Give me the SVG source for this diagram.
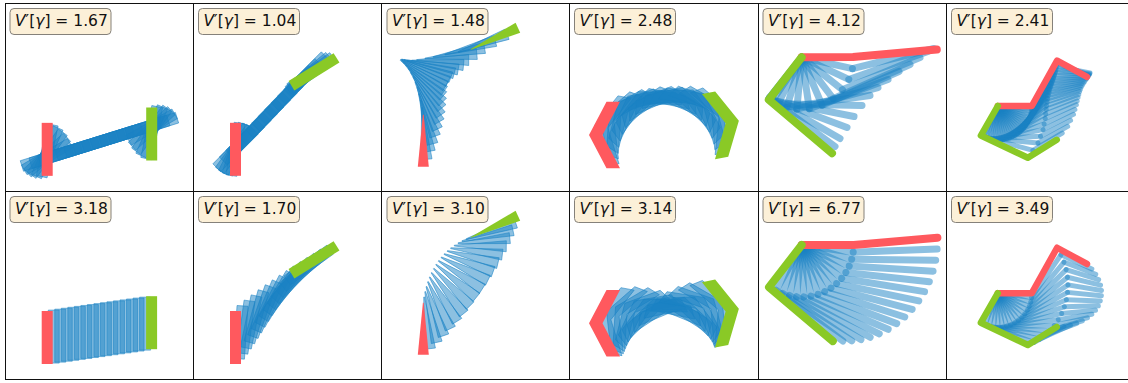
<svg xmlns="http://www.w3.org/2000/svg" width="1128" height="383" viewBox="0 0 1128 383">
<style>
.b{fill:#1982c4;fill-opacity:.5;stroke:#1982c4;stroke-opacity:.75;stroke-width:.7;stroke-linejoin:round}
.r{fill:#ff595e}
.g{fill:#8ac926}
.lr{fill:none;stroke:#ff595e;stroke-linecap:round;stroke-linejoin:round}
.lg{fill:none;stroke:#8ac926;stroke-linecap:round;stroke-linejoin:round}
.lb{stroke:#1982c4;stroke-opacity:.5;stroke-linecap:round}
.w5 .lr,.w5 .lg{stroke-width:8}
.w5 .lb{stroke-width:7}
.w6 .lr,.w6 .lg{stroke-width:6.5}
.w6 .lb{stroke-width:5}
.box{fill:#fcf0d8;stroke:#85817a;stroke-width:1}
.t{font-family:"DejaVu Sans","Liberation Sans",sans-serif;font-size:15.5px;fill:#111}
.i{font-style:italic}
.frame{stroke:#111;stroke-width:1;fill:none}
</style>
<defs>
<rect id="R" x="-5.5" y="-26.5" width="11" height="53"/>
<polygon id="T" points="-0.4,0 0.4,0 5.5,52 -5.5,52"/>
<polygon id="C" points="-7,0 10.5,-33.3 24,-33.3 6.5,0 24,33.3 10.5,33.3"/>
</defs>

<g id="panel-r1c1" transform="translate(5,3.5)">
<g id="label-r1c1"><rect class="box" x="5" y="5" width="101" height="26" rx="4"/><text class="t" x="10" y="22"><tspan class="i">V</tspan>′[<tspan class="i">γ</tspan>] = 1.67</text></g>
<g id="path-r1c1">
<use href="#R" class="b" transform="translate(42.2,147.25) rotate(12)"/>
<use href="#R" class="b" transform="translate(42.2,148.7) rotate(24)"/>
<use href="#R" class="b" transform="translate(42.2,150.2) rotate(36)"/>
<use href="#R" class="b" transform="translate(42.2,151.6) rotate(48)"/>
<use href="#R" class="b" transform="translate(42.2,153.1) rotate(60)"/>
<use href="#R" class="b" transform="translate(42.2,154.6) rotate(72.7)"/>
<use href="#R" class="b" transform="translate(50.91,151.89) rotate(72.7)"/>
<use href="#R" class="b" transform="translate(59.62,149.18) rotate(72.7)"/>
<use href="#R" class="b" transform="translate(68.32,146.48) rotate(72.7)"/>
<use href="#R" class="b" transform="translate(77.03,143.77) rotate(72.7)"/>
<use href="#R" class="b" transform="translate(85.74,141.06) rotate(72.7)"/>
<use href="#R" class="b" transform="translate(94.45,138.35) rotate(72.7)"/>
<use href="#R" class="b" transform="translate(103.16,135.64) rotate(72.7)"/>
<use href="#R" class="b" transform="translate(111.86,132.94) rotate(72.7)"/>
<use href="#R" class="b" transform="translate(120.57,130.23) rotate(72.7)"/>
<use href="#R" class="b" transform="translate(129.28,127.52) rotate(72.7)"/>
<use href="#R" class="b" transform="translate(137.99,124.81) rotate(72.7)"/>
<use href="#R" class="b" transform="translate(146.7,122.1) rotate(72.7)"/>
<use href="#R" class="b" transform="translate(146.7,123.57) rotate(60)"/>
<use href="#R" class="b" transform="translate(146.7,124.95) rotate(48)"/>
<use href="#R" class="b" transform="translate(146.7,126.34) rotate(36)"/>
<use href="#R" class="b" transform="translate(146.7,127.73) rotate(24)"/>
<use href="#R" class="b" transform="translate(146.7,129.11) rotate(12)"/>
</g>
<use id="start-r1c1" href="#R" class="r" transform="translate(42.2,145.85)"/>
<use id="end-r1c1" href="#R" class="g" transform="translate(146.7,130.5)"/>
</g>

<g id="panel-r1c2" transform="translate(193.5,3.5)">
<g id="label-r1c2"><rect class="box" x="5" y="5" width="101" height="26" rx="4"/><text class="t" x="10" y="22"><tspan class="i">V</tspan>′[<tspan class="i">γ</tspan>] = 1.04</text></g>
<g id="path-r1c2">
<use href="#R" class="b" transform="translate(42,145.8) rotate(9)"/>
<use href="#R" class="b" transform="translate(42,145.7) rotate(18)"/>
<use href="#R" class="b" transform="translate(42,145.6) rotate(27)"/>
<use href="#R" class="b" transform="translate(42,145.5) rotate(36)"/>
<use href="#R" class="b" transform="translate(42,145.5) rotate(45)"/>
<use href="#R" class="b" transform="translate(48.45,138.73) rotate(45)"/>
<use href="#R" class="b" transform="translate(54.91,131.95) rotate(45)"/>
<use href="#R" class="b" transform="translate(61.36,125.18) rotate(45)"/>
<use href="#R" class="b" transform="translate(67.82,118.41) rotate(45)"/>
<use href="#R" class="b" transform="translate(74.27,111.64) rotate(45)"/>
<use href="#R" class="b" transform="translate(80.73,104.86) rotate(45)"/>
<use href="#R" class="b" transform="translate(87.18,98.09) rotate(45)"/>
<use href="#R" class="b" transform="translate(93.64,91.32) rotate(45)"/>
<use href="#R" class="b" transform="translate(100.09,84.55) rotate(45)"/>
<use href="#R" class="b" transform="translate(106.55,77.77) rotate(45)"/>
<use href="#R" class="b" transform="translate(113,71) rotate(45)"/>
<use href="#R" class="b" transform="translate(115.5,70.2) rotate(50)"/>
<use href="#R" class="b" transform="translate(118,69.2) rotate(54)"/>
</g>
<use id="start-r1c2" href="#R" class="r" transform="translate(42,145.8)"/>
<use id="end-r1c2" href="#R" class="g" transform="translate(120.5,68.3) rotate(58.2)"/>
</g>

<g id="panel-r1c3" transform="translate(382,3.5)">
<g id="label-r1c3"><rect class="box" x="5" y="5" width="101" height="26" rx="4"/><text class="t" x="10" y="22"><tspan class="i">V</tspan>′[<tspan class="i">γ</tspan>] = 1.48</text></g>
<g id="path-r1c3">
<use href="#T" class="b" transform="translate(40,104) rotate(-5)"/>
<use href="#T" class="b" transform="translate(38.7,96.5) rotate(-10)"/>
<use href="#T" class="b" transform="translate(37,90.2) rotate(-15)"/>
<use href="#T" class="b" transform="translate(35.3,83.8) rotate(-20)"/>
<use href="#T" class="b" transform="translate(33.3,78.5) rotate(-25)"/>
<use href="#T" class="b" transform="translate(31.3,73.2) rotate(-30)"/>
<use href="#T" class="b" transform="translate(28.8,69) rotate(-35)"/>
<use href="#T" class="b" transform="translate(26.3,64.8) rotate(-40)"/>
<use href="#T" class="b" transform="translate(23.8,61.8) rotate(-45)"/>
<use href="#T" class="b" transform="translate(21.3,59) rotate(-50)"/>
<use href="#T" class="b" transform="translate(19.7,57.5) rotate(-55)"/>
<use href="#T" class="b" transform="translate(18.5,56.5) rotate(-60)"/>
<use href="#T" class="b" transform="translate(19,56) rotate(-65)"/>
<use href="#T" class="b" transform="translate(20,56) rotate(-70)"/>
<use href="#T" class="b" transform="translate(22,56.3) rotate(-75)"/>
<use href="#T" class="b" transform="translate(25,57) rotate(-80)"/>
<use href="#T" class="b" transform="translate(29.7,57) rotate(-85)"/>
<use href="#T" class="b" transform="translate(34.7,56.5) rotate(-90)"/>
<use href="#T" class="b" transform="translate(43,55) rotate(-95)"/>
<use href="#T" class="b" transform="translate(51.3,53.5) rotate(-100)"/>
<use href="#T" class="b" transform="translate(63,51) rotate(-105)"/>
<use href="#T" class="b" transform="translate(76.3,48.5) rotate(-110)"/>
</g>
<use id="start-r1c3" href="#T" class="r" transform="translate(41.3,111.3)"/>
<use id="end-r1c3" href="#T" class="g" transform="translate(88.7,46) rotate(-114.8)"/>
</g>

<g id="panel-r1c4" transform="translate(569.5,3.5)">
<g id="label-r1c4"><rect class="box" x="5" y="5" width="101" height="26" rx="4"/><text class="t" x="10" y="22"><tspan class="i">V</tspan>′[<tspan class="i">γ</tspan>] = 2.48</text></g>
<g id="path-r1c4">
<use href="#C" class="b" transform="translate(32.03,123.2) rotate(10.54)"/>
<use href="#C" class="b" transform="translate(38.5,115.66) rotate(21.09)"/>
<use href="#C" class="b" transform="translate(45.83,108.92) rotate(31.63)"/>
<use href="#C" class="b" transform="translate(53.88,103.1) rotate(42.18)"/>
<use href="#C" class="b" transform="translate(62.57,98.26) rotate(52.72)"/>
<use href="#C" class="b" transform="translate(71.78,94.48) rotate(63.26)"/>
<use href="#C" class="b" transform="translate(81.35,91.81) rotate(73.81)"/>
<use href="#C" class="b" transform="translate(91.18,90.28) rotate(84.35)"/>
<use href="#C" class="b" transform="translate(101.13,89.92) rotate(94.89)"/>
<use href="#C" class="b" transform="translate(111.03,90.73) rotate(105.44)"/>
<use href="#C" class="b" transform="translate(120.79,92.71) rotate(115.98)"/>
<use href="#C" class="b" transform="translate(130.23,95.81) rotate(126.53)"/>
<use href="#C" class="b" transform="translate(139.26,100.01) rotate(137.07)"/>
<use href="#C" class="b" transform="translate(147.71,105.24) rotate(147.61)"/>
<use href="#C" class="b" transform="translate(155.52,111.44) rotate(158.16)"/>
</g>
<use id="start-r1c4" href="#C" class="r" transform="translate(26.5,131.5)"/>
<use id="end-r1c4" href="#C" class="g" transform="translate(162.5,118.5) rotate(168.7)"/>
</g>

<g id="panel-r1c5" class="w5" transform="translate(758,3.5)">
<g id="label-r1c5"><rect class="box" x="5" y="5" width="101" height="26" rx="4"/><text class="t" x="10" y="22"><tspan class="i">V</tspan>′[<tspan class="i">γ</tspan>] = 4.12</text></g>
<g id="path-r1c5">
<line class="lb" x1="43.7" y1="53.8" x2="94.45" y2="65.14"/><line class="lb" x1="94.45" y1="65.14" x2="176" y2="45"/>
<line class="lb" x1="43.7" y1="53.8" x2="90.75" y2="75.94"/><line class="lb" x1="90.75" y1="75.94" x2="170" y2="48"/>
<line class="lb" x1="43.7" y1="53.8" x2="84.4" y2="86.17"/><line class="lb" x1="84.4" y1="86.17" x2="162" y2="54"/>
<line class="lb" x1="43.7" y1="53.8" x2="75.21" y2="95.17"/><line class="lb" x1="75.21" y1="95.17" x2="152" y2="61"/>
<line class="lb" x1="43.7" y1="53.8" x2="64.02" y2="101.67"/><line class="lb" x1="64.02" y1="101.67" x2="141" y2="68"/>
<line class="lb" x1="43.7" y1="53.8" x2="51.3" y2="105.24"/><line class="lb" x1="51.3" y1="105.24" x2="130" y2="76"/>
<line class="lb" x1="43.7" y1="53.8" x2="38.81" y2="105.57"/><line class="lb" x1="38.81" y1="105.57" x2="120" y2="84"/>
<line class="lb" x1="43.7" y1="53.8" x2="28.84" y2="103.63"/><line class="lb" x1="28.84" y1="103.63" x2="112" y2="92"/>
<line class="lb" x1="43.7" y1="53.8" x2="20.09" y2="100.13"/><line class="lb" x1="20.09" y1="100.13" x2="104" y2="102"/>
<line class="lb" x1="43.7" y1="53.8" x2="14.62" y2="96.91"/><line class="lb" x1="14.62" y1="96.91" x2="96" y2="113"/>
<line class="lb" x1="43.7" y1="53.8" x2="12.41" y2="95.33"/><line class="lb" x1="12.41" y1="95.33" x2="89" y2="124"/>
<line class="lb" x1="43.7" y1="53.8" x2="11.33" y2="94.5"/><line class="lb" x1="11.33" y1="94.5" x2="82" y2="135"/>
<line class="lb" x1="43.7" y1="53.8" x2="11.33" y2="94.5"/><line class="lb" x1="11.33" y1="94.5" x2="77" y2="143"/>
</g>
<polyline id="start-r1c5" class="lr" points="43.7,53.8 95,53.6 178.8,46"/>
<polyline id="end-r1c5" class="lg" points="43.7,53.8 10.8,96.3 74,149.7"/>
</g>

<g id="panel-r1c6" class="w6" transform="translate(946.5,3.5)">
<g id="label-r1c6"><rect class="box" x="5" y="5" width="101" height="26" rx="4"/><text class="t" x="10" y="22"><tspan class="i">V</tspan>′[<tspan class="i">γ</tspan>] = 2.41</text></g>
<g id="path-r1c6">
<line class="lb" x1="51.3" y1="102.5" x2="85.05" y2="105.45"/><line class="lb" x1="85.05" y1="105.45" x2="110.36" y2="60.02"/><line class="lb" x1="110.36" y1="60.02" x2="141.99" y2="71.39"/>
<line class="lb" x1="51.3" y1="102.5" x2="84.79" y2="108.39"/><line class="lb" x1="84.79" y1="108.39" x2="110.13" y2="62.98"/><line class="lb" x1="110.13" y1="62.98" x2="143.5" y2="69.5"/>
<line class="lb" x1="51.3" y1="102.5" x2="84.03" y2="111.25"/><line class="lb" x1="84.03" y1="111.25" x2="109.5" y2="65.92"/><line class="lb" x1="109.5" y1="65.92" x2="143.14" y2="70.32"/>
<line class="lb" x1="51.3" y1="102.5" x2="83.26" y2="114.11"/><line class="lb" x1="83.26" y1="114.11" x2="108.86" y2="68.85"/><line class="lb" x1="108.86" y1="68.85" x2="142.78" y2="71.13"/>
<line class="lb" x1="51.3" y1="102.5" x2="82.01" y2="116.79"/><line class="lb" x1="82.01" y1="116.79" x2="107.99" y2="71.75"/><line class="lb" x1="107.99" y1="71.75" x2="141.94" y2="72.38"/>
<line class="lb" x1="51.3" y1="102.5" x2="80.76" y2="119.47"/><line class="lb" x1="80.76" y1="119.47" x2="107.11" y2="74.64"/><line class="lb" x1="107.11" y1="74.64" x2="141.1" y2="73.63"/>
<line class="lb" x1="51.3" y1="102.5" x2="79.07" y2="121.9"/><line class="lb" x1="79.07" y1="121.9" x2="106.14" y2="77.5"/><line class="lb" x1="106.14" y1="77.5" x2="140.03" y2="75.11"/>
<line class="lb" x1="51.3" y1="102.5" x2="77.37" y2="124.32"/><line class="lb" x1="77.37" y1="124.32" x2="105.16" y2="80.36"/><line class="lb" x1="105.16" y1="80.36" x2="138.95" y2="76.59"/>
<line class="lb" x1="51.3" y1="102.5" x2="75.28" y2="126.42"/><line class="lb" x1="75.28" y1="126.42" x2="104.22" y2="83.23"/><line class="lb" x1="104.22" y1="83.23" x2="137.83" y2="78.25"/>
<line class="lb" x1="51.3" y1="102.5" x2="73.19" y2="128.52"/><line class="lb" x1="73.19" y1="128.52" x2="103.27" y2="86.1"/><line class="lb" x1="103.27" y1="86.1" x2="136.7" y2="79.91"/>
<line class="lb" x1="51.3" y1="102.5" x2="70.77" y2="130.22"/><line class="lb" x1="70.77" y1="130.22" x2="102.49" y2="89.07"/><line class="lb" x1="102.49" y1="89.07" x2="135.68" y2="81.8"/>
<line class="lb" x1="51.3" y1="102.5" x2="68.35" y2="131.92"/><line class="lb" x1="68.35" y1="131.92" x2="101.7" y2="92.03"/><line class="lb" x1="101.7" y1="92.03" x2="134.66" y2="83.68"/>
<line class="lb" x1="51.3" y1="102.5" x2="65.68" y2="133.18"/><line class="lb" x1="65.68" y1="133.18" x2="101.13" y2="95.25"/><line class="lb" x1="101.13" y1="95.25" x2="133.81" y2="85.92"/>
<line class="lb" x1="51.3" y1="102.5" x2="63" y2="134.43"/><line class="lb" x1="63" y1="134.43" x2="100.55" y2="98.46"/><line class="lb" x1="100.55" y1="98.46" x2="132.95" y2="88.16"/>
<line class="lb" x1="51.3" y1="102.5" x2="60.14" y2="135.2"/><line class="lb" x1="60.14" y1="135.2" x2="100.13" y2="102.18"/><line class="lb" x1="100.13" y1="102.18" x2="132.22" y2="90.99"/>
<line class="lb" x1="51.3" y1="102.5" x2="57.28" y2="135.97"/><line class="lb" x1="57.28" y1="135.97" x2="99.7" y2="105.9"/><line class="lb" x1="99.7" y1="105.9" x2="131.48" y2="93.82"/>
<line class="lb" x1="51.3" y1="102.5" x2="54.34" y2="136.24"/><line class="lb" x1="54.34" y1="136.24" x2="99.21" y2="110.43"/><line class="lb" x1="99.21" y1="110.43" x2="130.65" y2="97.52"/>
<line class="lb" x1="51.3" y1="102.5" x2="51.39" y2="136.5"/><line class="lb" x1="51.39" y1="136.5" x2="98.71" y2="114.95"/><line class="lb" x1="98.71" y1="114.95" x2="129.82" y2="101.22"/>
<line class="lb" x1="51.3" y1="102.5" x2="48.45" y2="136.25"/><line class="lb" x1="48.45" y1="136.25" x2="97.63" y2="120.53"/><line class="lb" x1="97.63" y1="120.53" x2="128.38" y2="106.04"/>
<line class="lb" x1="51.3" y1="102.5" x2="45.5" y2="136"/><line class="lb" x1="45.5" y1="136" x2="96.55" y2="126.11"/><line class="lb" x1="96.55" y1="126.11" x2="126.94" y2="110.86"/>
<line class="lb" x1="51.3" y1="102.5" x2="42.64" y2="135.25"/><line class="lb" x1="42.64" y1="135.25" x2="94.04" y2="132.83"/><line class="lb" x1="94.04" y1="132.83" x2="124.05" y2="116.88"/>
<line class="lb" x1="51.3" y1="102.5" x2="39.77" y2="134.49"/><line class="lb" x1="39.77" y1="134.49" x2="91.52" y2="139.54"/><line class="lb" x1="91.52" y1="139.54" x2="121.16" y2="122.89"/>
<line class="lb" x1="51.3" y1="102.5" x2="37.09" y2="133.25"/><line class="lb" x1="37.09" y1="133.25" x2="86.45" y2="146.92"/><line class="lb" x1="86.45" y1="146.92" x2="115.7" y2="129.61"/>
</g>
<polyline id="start-r1c6" class="lr" points="51.3,102.5 85.3,102.5 110.59,57.06 140.47,73.28"/>
<polyline id="end-r1c6" class="lg" points="51.3,102.5 34.4,132 81.37,154.3 110.24,136.33"/>
</g>

<g id="panel-r2c1" transform="translate(5,191.5)">
<g id="label-r2c1"><rect class="box" x="5" y="5" width="101" height="26" rx="4"/><text class="t" x="10" y="22"><tspan class="i">V</tspan>′[<tspan class="i">γ</tspan>] = 3.18</text></g>
<g id="path-r2c1">
<use href="#R" class="b" transform="translate(48.73,145.08)"/>
<use href="#R" class="b" transform="translate(55.25,144.15)"/>
<use href="#R" class="b" transform="translate(61.78,143.23)"/>
<use href="#R" class="b" transform="translate(68.3,142.3)"/>
<use href="#R" class="b" transform="translate(74.83,141.38)"/>
<use href="#R" class="b" transform="translate(81.35,140.45)"/>
<use href="#R" class="b" transform="translate(87.88,139.53)"/>
<use href="#R" class="b" transform="translate(94.4,138.6)"/>
<use href="#R" class="b" transform="translate(100.93,137.68)"/>
<use href="#R" class="b" transform="translate(107.45,136.75)"/>
<use href="#R" class="b" transform="translate(113.98,135.83)"/>
<use href="#R" class="b" transform="translate(120.5,134.9)"/>
<use href="#R" class="b" transform="translate(127.03,133.98)"/>
<use href="#R" class="b" transform="translate(133.55,133.05)"/>
<use href="#R" class="b" transform="translate(140.08,132.13)"/>
</g>
<use id="start-r2c1" href="#R" class="r" transform="translate(42.2,146)"/>
<use id="end-r2c1" href="#R" class="g" transform="translate(146.6,131.2)"/>
</g>

<g id="panel-r2c2" transform="translate(193.5,191.5)">
<g id="label-r2c2"><rect class="box" x="5" y="5" width="101" height="26" rx="4"/><text class="t" x="10" y="22"><tspan class="i">V</tspan>′[<tspan class="i">γ</tspan>] = 1.70</text></g>
<g id="path-r2c2">
<use href="#R" class="b" transform="translate(47.23,140.82) rotate(3.88)"/>
<use href="#R" class="b" transform="translate(52.47,135.64) rotate(7.76)"/>
<use href="#R" class="b" transform="translate(57.7,130.46) rotate(11.64)"/>
<use href="#R" class="b" transform="translate(62.93,125.28) rotate(15.52)"/>
<use href="#R" class="b" transform="translate(68.17,120.1) rotate(19.4)"/>
<use href="#R" class="b" transform="translate(73.4,114.92) rotate(23.28)"/>
<use href="#R" class="b" transform="translate(78.63,109.74) rotate(27.16)"/>
<use href="#R" class="b" transform="translate(83.87,104.56) rotate(31.04)"/>
<use href="#R" class="b" transform="translate(89.1,99.38) rotate(34.92)"/>
<use href="#R" class="b" transform="translate(94.33,94.2) rotate(38.8)"/>
<use href="#R" class="b" transform="translate(99.57,89.02) rotate(42.68)"/>
<use href="#R" class="b" transform="translate(104.8,83.84) rotate(46.56)"/>
<use href="#R" class="b" transform="translate(110.03,78.66) rotate(50.44)"/>
<use href="#R" class="b" transform="translate(115.27,73.48) rotate(54.32)"/>
</g>
<use id="start-r2c2" href="#R" class="r" transform="translate(42,146)"/>
<use id="end-r2c2" href="#R" class="g" transform="translate(120.5,68.3) rotate(58.2)"/>
</g>

<g id="panel-r2c3" transform="translate(382,191.5)">
<g id="label-r2c3"><rect class="box" x="5" y="5" width="101" height="26" rx="4"/><text class="t" x="10" y="22"><tspan class="i">V</tspan>′[<tspan class="i">γ</tspan>] = 3.10</text></g>
<g id="path-r2c3">
<use href="#T" class="b" transform="translate(42.15,105.47) rotate(-6.38)"/>
<use href="#T" class="b" transform="translate(43.21,100.16) rotate(-12.76)"/>
<use href="#T" class="b" transform="translate(44.47,95.08) rotate(-19.13)"/>
<use href="#T" class="b" transform="translate(45.95,90.22) rotate(-25.51)"/>
<use href="#T" class="b" transform="translate(47.64,85.6) rotate(-31.89)"/>
<use href="#T" class="b" transform="translate(49.54,81.19) rotate(-38.27)"/>
<use href="#T" class="b" transform="translate(51.65,77.03) rotate(-44.64)"/>
<use href="#T" class="b" transform="translate(53.97,73.07) rotate(-51.02)"/>
<use href="#T" class="b" transform="translate(56.51,69.35) rotate(-57.4)"/>
<use href="#T" class="b" transform="translate(59.23,65.85) rotate(-63.78)"/>
<use href="#T" class="b" transform="translate(62.18,62.57) rotate(-70.16)"/>
<use href="#T" class="b" transform="translate(65.34,59.52) rotate(-76.53)"/>
<use href="#T" class="b" transform="translate(68.71,56.7) rotate(-82.91)"/>
<use href="#T" class="b" transform="translate(72.28,54.12) rotate(-89.29)"/>
<use href="#T" class="b" transform="translate(76.07,51.74) rotate(-95.67)"/>
<use href="#T" class="b" transform="translate(80.07,49.6) rotate(-102.04)"/>
<use href="#T" class="b" transform="translate(84.29,47.69) rotate(-108.42)"/>
</g>
<use id="start-r2c3" href="#T" class="r" transform="translate(41.3,111.3)"/>
<use id="end-r2c3" href="#T" class="g" transform="translate(88.7,46) rotate(-114.8)"/>
</g>

<g id="panel-r2c4" transform="translate(569.5,191.5)">
<g id="label-r2c4"><rect class="box" x="5" y="5" width="101" height="26" rx="4"/><text class="t" x="10" y="22"><tspan class="i">V</tspan>′[<tspan class="i">γ</tspan>] = 3.14</text></g>
<g id="path-r2c4">
<use href="#C" class="b" transform="translate(35,127) rotate(10.54)"/>
<use href="#C" class="b" transform="translate(43.5,122.5) rotate(21.09)"/>
<use href="#C" class="b" transform="translate(52,119) rotate(31.63)"/>
<use href="#C" class="b" transform="translate(60.5,116.5) rotate(42.18)"/>
<use href="#C" class="b" transform="translate(69,115) rotate(52.72)"/>
<use href="#C" class="b" transform="translate(77.5,114) rotate(63.26)"/>
<use href="#C" class="b" transform="translate(86.5,113.8) rotate(73.81)"/>
<use href="#C" class="b" transform="translate(95.5,113.8) rotate(84.35)"/>
<use href="#C" class="b" transform="translate(104.5,113.3) rotate(94.89)"/>
<use href="#C" class="b" transform="translate(113,112.5) rotate(105.44)"/>
<use href="#C" class="b" transform="translate(122,111.8) rotate(115.98)"/>
<use href="#C" class="b" transform="translate(130.5,111.6) rotate(126.53)"/>
<use href="#C" class="b" transform="translate(139,112.2) rotate(137.07)"/>
<use href="#C" class="b" transform="translate(147,113.8) rotate(147.61)"/>
<use href="#C" class="b" transform="translate(155,116) rotate(158.16)"/>
</g>
<use id="start-r2c4" href="#C" class="r" transform="translate(26.5,131.7)"/>
<use id="end-r2c4" href="#C" class="g" transform="translate(162.5,118.7) rotate(168.7)"/>
</g>

<g id="panel-r2c5" class="w5" transform="translate(758,191.5)">
<g id="label-r2c5"><rect class="box" x="5" y="5" width="101" height="26" rx="4"/><text class="t" x="10" y="22"><tspan class="i">V</tspan>′[<tspan class="i">γ</tspan>] = 6.77</text></g>
<g id="path-r2c5">
<line class="lb" x1="43.7" y1="53.5" x2="95.2" y2="60.71"/><line class="lb" x1="95.2" y1="60.71" x2="179.14" y2="57.51"/>
<line class="lb" x1="43.7" y1="53.5" x2="93.7" y2="67.79"/><line class="lb" x1="93.7" y1="67.79" x2="177.7" y2="68.73"/>
<line class="lb" x1="43.7" y1="53.5" x2="91.23" y2="74.59"/><line class="lb" x1="91.23" y1="74.59" x2="175.08" y2="79.66"/>
<line class="lb" x1="43.7" y1="53.5" x2="87.85" y2="80.98"/><line class="lb" x1="87.85" y1="80.98" x2="171.35" y2="90.16"/>
<line class="lb" x1="43.7" y1="53.5" x2="83.63" y2="86.82"/><line class="lb" x1="83.63" y1="86.82" x2="166.57" y2="100.1"/>
<line class="lb" x1="43.7" y1="53.5" x2="78.6" y2="92.05"/><line class="lb" x1="78.6" y1="92.05" x2="160.79" y2="109.39"/>
<line class="lb" x1="43.7" y1="53.5" x2="72.91" y2="96.52"/><line class="lb" x1="72.91" y1="96.52" x2="154.15" y2="117.88"/>
<line class="lb" x1="43.7" y1="53.5" x2="66.66" y2="100.16"/><line class="lb" x1="66.66" y1="100.16" x2="146.75" y2="125.49"/>
<line class="lb" x1="43.7" y1="53.5" x2="59.97" y2="102.89"/><line class="lb" x1="59.97" y1="102.89" x2="138.72" y2="132.13"/>
<line class="lb" x1="43.7" y1="53.5" x2="52.95" y2="104.67"/><line class="lb" x1="52.95" y1="104.67" x2="130.16" y2="137.75"/>
<line class="lb" x1="43.7" y1="53.5" x2="45.76" y2="105.46"/><line class="lb" x1="45.76" y1="105.46" x2="121.25" y2="142.29"/>
<line class="lb" x1="43.7" y1="53.5" x2="38.54" y2="105.24"/><line class="lb" x1="38.54" y1="105.24" x2="112.13" y2="145.74"/>
<line class="lb" x1="43.7" y1="53.5" x2="31.41" y2="104.03"/><line class="lb" x1="31.41" y1="104.03" x2="102.92" y2="148.1"/>
<line class="lb" x1="43.7" y1="53.5" x2="24.52" y2="101.83"/><line class="lb" x1="24.52" y1="101.83" x2="93.78" y2="149.36"/>
<line class="lb" x1="43.7" y1="53.5" x2="17.99" y2="98.7"/><line class="lb" x1="17.99" y1="98.7" x2="84.82" y2="149.58"/>
</g>
<polyline id="start-r2c5" class="lr" points="43.7,53.5 95.7,53.5 179.4,46.2"/>
<polyline id="end-r2c5" class="lg" points="43.7,53.5 11,95.6 74.8,149.6"/>
</g>

<g id="panel-r2c6" class="w6" transform="translate(946.5,191.5)">
<g id="label-r2c6"><rect class="box" x="5" y="5" width="101" height="26" rx="4"/><text class="t" x="10" y="22"><tspan class="i">V</tspan>′[<tspan class="i">γ</tspan>] = 3.49</text></g>
<g id="path-r2c6">
<line class="lb" x1="51.3" y1="101.7" x2="85.01" y2="106.13"/><line class="lb" x1="85.01" y1="106.13" x2="114.47" y2="63.28"/><line class="lb" x1="114.47" y1="63.28" x2="145.35" y2="77.5"/>
<line class="lb" x1="51.3" y1="101.7" x2="84.15" y2="110.49"/><line class="lb" x1="84.15" y1="110.49" x2="117.5" y2="70.59"/><line class="lb" x1="117.5" y1="70.59" x2="149.25" y2="82.75"/>
<line class="lb" x1="51.3" y1="101.7" x2="82.72" y2="114.69"/><line class="lb" x1="82.72" y1="114.69" x2="119.67" y2="78.1"/><line class="lb" x1="119.67" y1="78.1" x2="152.15" y2="88.14"/>
<line class="lb" x1="51.3" y1="101.7" x2="80.76" y2="118.67"/><line class="lb" x1="80.76" y1="118.67" x2="120.99" y2="85.72"/><line class="lb" x1="120.99" y1="85.72" x2="154.06" y2="93.6"/>
<line class="lb" x1="51.3" y1="101.7" x2="78.3" y2="122.37"/><line class="lb" x1="78.3" y1="122.37" x2="121.44" y2="93.34"/><line class="lb" x1="121.44" y1="93.34" x2="154.96" y2="99.03"/>
<line class="lb" x1="51.3" y1="101.7" x2="75.37" y2="125.71"/><line class="lb" x1="75.37" y1="125.71" x2="121.05" y2="100.87"/><line class="lb" x1="121.05" y1="100.87" x2="154.87" y2="104.34"/>
<line class="lb" x1="51.3" y1="101.7" x2="72.04" y2="128.65"/><line class="lb" x1="72.04" y1="128.65" x2="119.86" y2="108.21"/><line class="lb" x1="119.86" y1="108.21" x2="153.84" y2="109.44"/>
<line class="lb" x1="51.3" y1="101.7" x2="68.35" y2="131.12"/><line class="lb" x1="68.35" y1="131.12" x2="117.87" y2="115.27"/><line class="lb" x1="117.87" y1="115.27" x2="151.86" y2="114.26"/>
<line class="lb" x1="51.3" y1="101.7" x2="64.37" y2="133.09"/><line class="lb" x1="64.37" y1="133.09" x2="115.17" y2="121.96"/><line class="lb" x1="115.17" y1="121.96" x2="149.02" y2="118.72"/>
<line class="lb" x1="51.3" y1="101.7" x2="60.17" y2="134.52"/><line class="lb" x1="60.17" y1="134.52" x2="111.79" y2="128.22"/><line class="lb" x1="111.79" y1="128.22" x2="145.35" y2="122.75"/>
<line class="lb" x1="51.3" y1="101.7" x2="55.82" y2="135.4"/><line class="lb" x1="55.82" y1="135.4" x2="107.8" y2="133.98"/><line class="lb" x1="107.8" y1="133.98" x2="140.93" y2="126.32"/>
<line class="lb" x1="51.3" y1="101.7" x2="51.39" y2="135.7"/><line class="lb" x1="51.39" y1="135.7" x2="103.27" y2="139.17"/><line class="lb" x1="103.27" y1="139.17" x2="135.82" y2="129.34"/>
<line class="lb" x1="51.3" y1="101.7" x2="46.96" y2="135.42"/><line class="lb" x1="46.96" y1="135.42" x2="98.29" y2="143.75"/><line class="lb" x1="98.29" y1="143.75" x2="130.12" y2="131.8"/>
<line class="lb" x1="51.3" y1="101.7" x2="42.6" y2="134.57"/><line class="lb" x1="42.6" y1="134.57" x2="92.92" y2="147.69"/><line class="lb" x1="92.92" y1="147.69" x2="123.9" y2="133.67"/>
<line class="lb" x1="51.3" y1="101.7" x2="38.39" y2="133.15"/><line class="lb" x1="38.39" y1="133.15" x2="87.25" y2="150.94"/><line class="lb" x1="87.25" y1="150.94" x2="117.24" y2="134.91"/>
</g>
<polyline id="start-r2c6" class="lr" points="51.3,101.7 85.3,101.7 110.59,56.26 140.47,72.48"/>
<polyline id="end-r2c6" class="lg" points="51.3,101.7 34.4,131.2 81.37,153.5 110.24,135.53"/>
</g>

<g id="frame" class="frame">
<path d="M5,3.5H1128M5,191.5H1128M5,379.5H1128M5.5,3.5V379.5M193.5,3.5V379.5M381.5,3.5V379.5M569.5,3.5V379.5M758.5,3.5V379.5M946.5,3.5V379.5"/>
</g>
</svg>
